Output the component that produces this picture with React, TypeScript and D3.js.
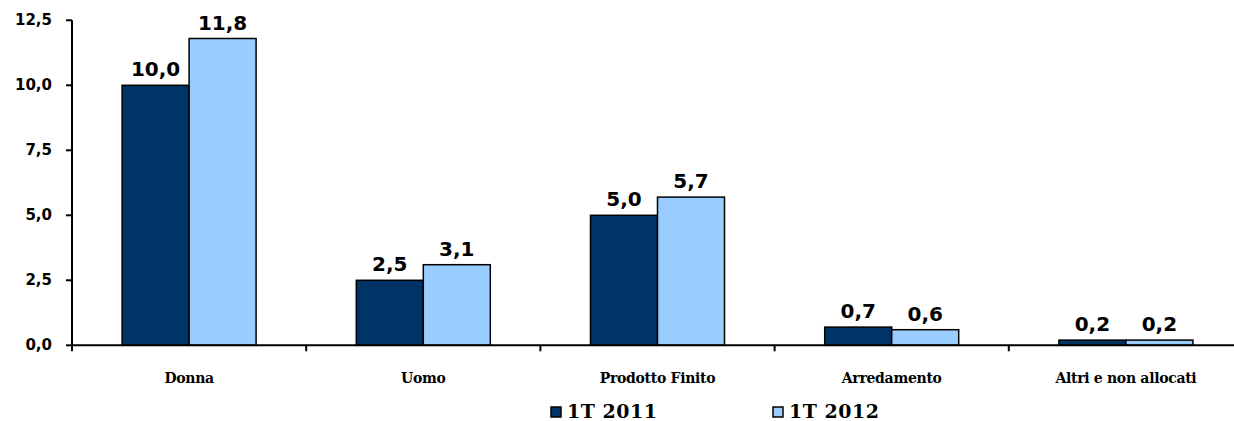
import React from "react";
import * as d3 from "d3";

const categories = ["Donna", "Uomo", "Prodotto Finito", "Arredamento", "Altri e non allocati"];
const series2011 = [10.0, 2.5, 5.0, 0.7, 0.2];
const series2012 = [11.8, 3.1, 5.7, 0.6, 0.2];
const seriesNames = ["1T 2011", "1T 2012"];
const yTicks = [0, 2.5, 5, 7.5, 10, 12.5];
const colors = ["#003366", "#99CCFF"];

const fmt = (v: number) => v.toFixed(1).replace(".", ",");

export default function App() {
  const W = 1234, H = 421;
  const x0 = 72, xEnd = 72 + 234.2 * 5;
  const y = d3.scaleLinear().domain([0, 12.5]).range([345.3, 20.3]);
  const x = d3.scaleBand<string>().domain(categories).range([x0, xEnd]).paddingInner(0).paddingOuter(0);
  const barW = 67;
  const sans = "'DejaVu Sans', Verdana, sans-serif";
  const serif = "'DejaVu Serif', Georgia, serif";
  const data = [series2011, series2012];
  return (
    <svg width={W} height={H} style={{ position: "absolute", left: 0, top: 0 }}>
      <rect width={W} height={H} fill="#fff" />
      {categories.map((c, i) =>
        data.map((s, j) => {
          const cx = (x(c) as number) + x.bandwidth() / 2;
          const bx = cx - barW + j * barW;
          const yv = y(s[i]);
          return (
            <g key={c + j}>
              <rect x={bx} y={yv} width={barW} height={y(0) - yv} fill={colors[j]} stroke="#000" strokeWidth={1.5} />
              <text x={bx + barW / 2} y={yv - 9} textAnchor="middle" fontFamily={sans} fontWeight="bold" fontSize={20} fill="#000">
                {fmt(s[i])}
              </text>
            </g>
          );
        })
      )}
      <line x1={x0} x2={x0} y1={y(12.5)} y2={y(0)} stroke="#000" strokeWidth={2} />
      <line x1={x0} x2={W + 10} y1={y(0)} y2={y(0)} stroke="#000" strokeWidth={2} />
      {yTicks.map((t) => (
        <g key={t}>
          <line x1={x0 - 6} x2={x0} y1={y(t)} y2={y(t)} stroke="#000" strokeWidth={2} />
          <text x={52} y={y(t) + 5} textAnchor="end" fontFamily={sans} fontWeight="bold" fontSize={15} fill="#000">
            {fmt(t)}
          </text>
        </g>
      ))}
      {categories.map((c, i) => (
        <g key={"t" + c}>
          <line x1={x(c) as number} x2={x(c) as number} y1={y(0)} y2={y(0) + 6} stroke="#000" strokeWidth={2} />
          <text x={(x(c) as number) + x.bandwidth() / 2} y={383} textAnchor="middle" fontFamily={serif} fontWeight="bold" fontSize={14} fill="#000" style={{ letterSpacing: "-0.3px" }}>
            {c}
          </text>
        </g>
      ))}
      {seriesNames.map((n, j) => {
        const lx = 551 + j * 222;
        return (
          <g key={n}>
            <rect x={lx} y={407} width={10} height={10} fill={colors[j]} stroke="#000" strokeWidth={1.5} />
            <text x={lx + 16} y={418} fontFamily={serif} fontWeight="bold" fontSize={19} fill="#000" style={{ letterSpacing: "0.5px" }}>
              {n}
            </text>
          </g>
        );
      })}
    </svg>
  );
}
